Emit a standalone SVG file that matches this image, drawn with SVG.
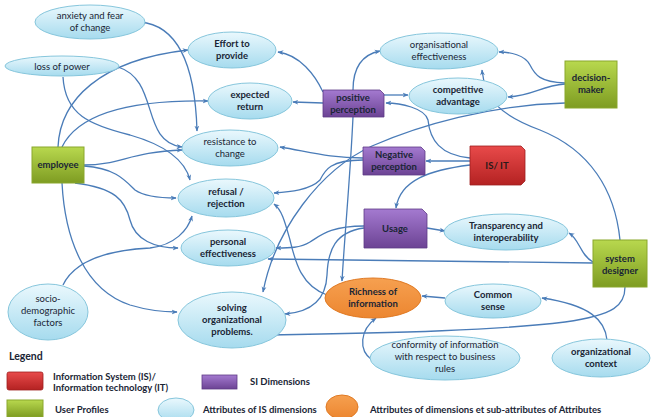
<svg xmlns="http://www.w3.org/2000/svg" width="651" height="417" viewBox="0 0 651 417">
<defs>
<linearGradient id="gBlue" x1="0" y1="0" x2="0" y2="1"><stop offset="0" stop-color="#eaf8fd"/><stop offset="1" stop-color="#a6dbee"/></linearGradient>
<linearGradient id="gGreen" x1="0" y1="0" x2="0" y2="1"><stop offset="0" stop-color="#b8d84e"/><stop offset="1" stop-color="#7e9c22"/></linearGradient>
<linearGradient id="gPurple" x1="0" y1="0" x2="0" y2="1"><stop offset="0" stop-color="#a47ad0"/><stop offset="1" stop-color="#6c4394"/></linearGradient>
<linearGradient id="gRed" x1="0" y1="0" x2="0" y2="1"><stop offset="0" stop-color="#e84a4a"/><stop offset="1" stop-color="#b42222"/></linearGradient>
<linearGradient id="gOrange" x1="0" y1="0" x2="0" y2="1"><stop offset="0" stop-color="#f6a050"/><stop offset="1" stop-color="#ec8630"/></linearGradient>
<marker id="arr" viewBox="0 0 10 10" refX="9" refY="5" markerWidth="6" markerHeight="6" orient="auto" markerUnits="userSpaceOnUse"><path d="M0,1 L10,5 L0,9 L3,5 Z" fill="#4a7cb8"/></marker>
</defs>
<style>
.ell{fill:url(#gBlue);stroke:#86c6dc;stroke-width:1}
.grn{fill:url(#gGreen);stroke:#8aa72c;stroke-width:1}
.pur{fill:url(#gPurple);stroke:#5e3a86;stroke-width:0.8}
.red{fill:url(#gRed);stroke:#a02020;stroke-width:0.8}
.org{fill:url(#gOrange);stroke:#e07a24;stroke-width:1}
text{font-family:Lato,"Liberation Sans",sans-serif;font-size:9.5px;fill:#1a2535;text-anchor:middle}
.b{font-weight:bold}
.lg{text-anchor:start;font-weight:bold}
#connectors path{fill:none;stroke:#4a7cb8;stroke-width:1.3;marker-end:url(#arr)}
</style>
<rect width="651" height="417" fill="#ffffff"/>

<g id="connectors">
<path d="M140,22 C175,25 195,60 197,131"/>
<path d="M118,67 C160,80 140,142 182,147"/>
<path d="M63,77 C65,115 90,125 130,135 C165,145 185,160 190,180"/>
<path d="M58,147 C60,100 100,60 188,50"/>
<path d="M62,147 C80,110 140,100 208,101"/>
<path d="M84,165 C120,165 130,152 182,150"/>
<path d="M84,166 C115,168 125,180 135,190 C145,197 160,198 176,198"/>
<path d="M75,183 C115,188 125,200 130,220 C135,240 155,248 178,248"/>
<path d="M62,183 C65,240 85,290 130,305 C150,311 165,312 177,312"/>
<path d="M63,285 C75,260 110,250 150,248 C175,245 188,230 192,216"/>
<path d="M323,92 C315,75 300,55 278,52"/>
<path d="M323,103 L293,102"/>
<path d="M353,90 C353,70 360,55 380,51"/>
<path d="M384,95 L408,95"/>
<path d="M353,117 C350,180 345,230 342,281"/>
<path d="M470,158 C440,155 430,140 428,120 C425,108 400,103 386,103"/>
<path d="M470,161 L426,161"/>
<path d="M470,165 C430,170 400,180 396,208"/>
<path d="M565,83 C540,82 535,75 530,65 C525,55 510,52 499,52"/>
<path d="M565,84 C540,86 535,95 508,97"/>
<path d="M565,103 C490,105 420,125 372,146 C320,170 275,230 263,292"/>
<path d="M363,158 C330,158 310,152 280,147"/>
<path d="M363,160 C330,160 325,170 320,180 C310,190 290,192 274,193"/>
<path d="M364,226 C330,226 320,236 310,242 C300,248 290,248 276,248"/>
<path d="M364,228 C335,232 328,250 327,275 C326,300 310,312 285,314"/>
<path d="M427,228 L445,231"/>
<path d="M593,262 C580,255 580,240 569,233"/>
<path d="M593,263 L268,259"/>
<path d="M620,240 C615,190 590,150 540,130 C500,115 485,100 482,70"/>
<path d="M445,298 L422,296"/>
<path d="M372,360 C358,350 360,330 376,318"/>
<path d="M607,340 C605,320 590,305 542,298"/>
<path d="M327,295 C300,285 295,260 290,240 C285,222 282,210 274,204"/>
<path d="M625,287 C625,305 615,315 565,322 C500,330 400,333 270,335"/>
</g>

<g id="n-anxiety"><ellipse class="ell" cx="90" cy="22" rx="55" ry="17"/><text x="90" y="19">anxiety and fear</text><text x="90" y="31">of change</text></g>
<g id="n-loss"><ellipse class="ell" cx="62" cy="66" rx="57" ry="10"/><text x="62" y="69.5">loss of power</text></g>
<g id="n-effort"><ellipse class="ell" cx="232" cy="50" rx="44" ry="18"/><text class="b" x="232" y="47">Effort to</text><text class="b" x="232" y="59">provide</text></g>
<g id="n-expected"><ellipse class="ell" cx="250" cy="101" rx="42" ry="18"/><text class="b" x="250" y="98">expected</text><text class="b" x="250" y="110">return</text></g>
<g id="n-resistance"><ellipse class="ell" cx="230" cy="148" rx="48" ry="18"/><text x="230" y="145">resistance to</text><text x="230" y="157">change</text></g>
<g id="n-refusal"><ellipse class="ell" cx="226" cy="198" rx="48" ry="19"/><text class="b" x="226" y="195">refusal /</text><text class="b" x="226" y="207">rejection</text></g>
<g id="n-personal"><ellipse class="ell" cx="228" cy="248" rx="47" ry="18"/><text class="b" x="228" y="245">personal</text><text class="b" x="228" y="257">effectiveness</text></g>
<g id="n-solving"><ellipse class="ell" cx="232" cy="320" rx="54" ry="28"/><text class="b" x="232" y="311">solving</text><text class="b" x="232" y="323">organizational</text><text class="b" x="232" y="335">problems.</text></g>
<g id="n-socio"><ellipse class="ell" cx="48" cy="312" rx="40" ry="28"/><text x="48" y="302">socio-</text><text x="48" y="314">demographic</text><text x="48" y="326">factors</text></g>
<g id="n-orgeff"><ellipse class="ell" cx="439" cy="51" rx="59" ry="18"/><text x="439" y="48">organisational</text><text x="439" y="60">effectiveness</text></g>
<g id="n-competitive"><ellipse class="ell" cx="458" cy="96" rx="49" ry="18"/><text class="b" x="458" y="93">competitive</text><text class="b" x="458" y="105">advantage</text></g>
<g id="n-transparency"><ellipse class="ell" cx="506" cy="232" rx="62" ry="18"/><text class="b" x="506" y="229">Transparency and</text><text class="b" x="506" y="241">interoperability</text></g>
<g id="n-common"><ellipse class="ell" cx="493" cy="301" rx="48" ry="17"/><text class="b" x="493" y="298">Common</text><text class="b" x="493" y="310">sense</text></g>
<g id="n-conformity"><ellipse class="ell" cx="445" cy="358" rx="75" ry="22"/><text x="445" y="348">conformity of information</text><text x="445" y="360">with respect to business</text><text x="445" y="372">rules</text></g>
<g id="n-context"><ellipse class="ell" cx="601" cy="358" rx="49" ry="19"/><text class="b" x="601" y="355">organizational</text><text class="b" x="601" y="367">context</text></g>
<g id="n-richness"><ellipse class="org" cx="373" cy="298" rx="48" ry="20"/><text class="b" x="373" y="295">Richness of</text><text class="b" x="373" y="307">information</text></g>

<g id="n-employee"><rect class="grn" x="32" y="147" width="52" height="36"/><text class="b" x="58" y="168">employee</text></g>
<g id="n-decision"><rect class="grn" x="565" y="61" width="52" height="47"/><text class="b" x="591" y="81">decision-</text><text class="b" x="591" y="93">maker</text></g>
<g id="n-designer"><rect class="grn" x="593" y="240" width="54" height="47"/><text class="b" x="620" y="262">system</text><text class="b" x="620" y="274">designer</text></g>
<g id="n-positive"><path class="pur" d="M323,90 H380 L384,94 V117 H323 Z"/><text class="b" x="353" y="101">positive</text><text class="b" x="353" y="113">perception</text></g>
<g id="n-negative"><path class="pur" d="M363,147 H421 L425,151 V175 H363 Z"/><text class="b" x="394" y="158">Negative</text><text class="b" x="394" y="170">perception</text></g>
<g id="n-usage"><path class="pur" d="M364,209 H422 L427,214 V248 H364 Z"/><text class="b" x="395" y="232">Usage</text></g>
<g id="n-isit"><path class="red" d="M470,146 H521 L525,150 V181 L521,185 H470 Z"/><text class="b" x="497" y="169" style="fill:#2a1a1a">IS/ IT</text></g>

<g id="legend">
<text class="lg" x="9" y="360" style="font-size:10.5px">Legend</text>
<rect class="red" x="7" y="372" width="36" height="18" rx="2"/>
<text class="lg" x="53" y="380">Information System (IS)/</text>
<text class="lg" x="53" y="391">Information technology (IT)</text>
<rect class="pur" x="202" y="375" width="35" height="14"/>
<text class="lg" x="250" y="385">SI Dimensions</text>
<rect class="grn" x="7" y="400" width="36" height="17"/>
<text class="lg" x="55" y="413">User Profiles</text>
<ellipse class="ell" cx="176" cy="410" rx="18" ry="12"/>
<text class="lg" x="203" y="413">Attributes of IS  dimensions</text>
<ellipse class="org" cx="342" cy="407" rx="16" ry="12"/>
<text class="lg" x="370" y="413">Attributes of dimensions  et sub-attributes of Attributes</text>
</g>
</svg>
